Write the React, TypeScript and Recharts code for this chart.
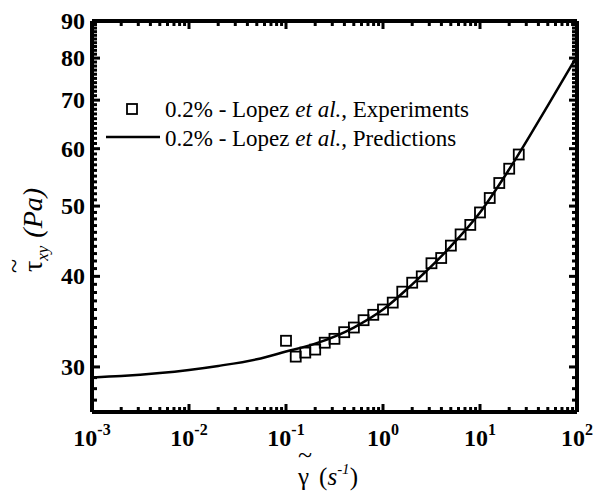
import React from "react";
import { ComposedChart, Line, Scatter, XAxis, YAxis, Legend } from "recharts";

const FONT = "'Liberation Serif', 'Times New Roman', Times, serif";

// measured shear stress vs shear rate, 0.2% solution
const shearRate = [
  0.1, 0.126, 0.158, 0.2, 0.251, 0.316, 0.398, 0.501, 0.631, 0.794, 1.0, 1.26,
  1.58, 2.0, 2.51, 3.16, 3.98, 5.01, 6.31, 7.94, 10.0, 12.6, 15.8, 20.0, 25.1,
];
const stressExp = [
  32.6, 31.0, 31.4, 31.7, 32.4, 32.8, 33.5, 34.0, 34.8, 35.4, 36.0, 36.8, 38.1,
  39.2, 40.0, 41.7, 42.4, 44.1, 45.7, 47.1, 49.0, 51.3, 53.8, 56.3, 58.9,
];

// model curve
const predRate = [0.001, 0.002, 0.005, 0.01, 0.02, 0.05, 0.1, 0.2, 0.5, 1, 2, 5, 10, 20, 50, 100];
const stressPred = [29.02, 29.14, 29.42, 29.72, 30.1, 30.74, 31.5, 32.3, 34.0, 36.0, 39.0, 44.0, 49.0, 56.2, 68.8, 80.5];

const xMajor = [0.001, 0.01, 0.1, 1, 10, 100];
const xExponents = ["-3", "-2", "-1", "0", "1", "2"];
const yMajor = [30, 40, 50, 60, 70, 80, 90];

const experiments = shearRate.map((x, i) => ({ x, y: stressExp[i] }));
const predictions = predRate.map((x, i) => ({ x, y: stressPred[i] }));

// minor ticks: 2..9 in every decade, every unit of stress
const xTicks: number[] = [];
xMajor.forEach((m, i) => {
  xTicks.push(m);
  if (i < xMajor.length - 1) for (let k = 2; k <= 9; k++) xTicks.push(+(m * k).toPrecision(3));
});
const yTicks: number[] = [];
for (let v = 26; v <= 90; v++) yTicks.push(v);

const majorX = (v: number) => xMajor.findIndex((m) => Math.abs(m - v) / m < 1e-6);
const majorY = (v: number) => yMajor.includes(v);

const TICK = { stroke: "#000", strokeWidth: 3 };
const FRAME = { stroke: "#000", strokeWidth: 4 };
const serif = { fontFamily: FONT };

const BottomTick = ({ x, y, payload }: any) => {
  const idx = majorX(payload.value);
  const len = idx >= 0 ? 8 : 5;
  return (
    <g>
      <line x1={x} y1={y} x2={x} y2={y - len} {...TICK} />
      {idx >= 0 && (
        <text x={x} y={y + 34} textAnchor="middle" style={serif} fontSize={24} fontWeight="bold" fill="#000">
          10
          <tspan fontSize={16} dy={-11}>{xExponents[idx]}</tspan>
        </text>
      )}
    </g>
  );
};

const TopTick = ({ x, y, payload }: any) => {
  const len = majorX(payload.value) >= 0 ? 8 : 5;
  return <line x1={x} y1={y} x2={x} y2={y + len} {...TICK} />;
};

const LeftTick = ({ x, y, payload }: any) => {
  const major = majorY(payload.value);
  return (
    <g>
      <line x1={x} y1={y} x2={x + (major ? 8 : 5)} y2={y} {...TICK} />
      {major && (
        <text x={x - 7} y={y + 8} textAnchor="end" style={serif} fontSize={24} fontWeight="bold" fill="#000">
          {payload.value}
        </text>
      )}
    </g>
  );
};

const RightTick = ({ x, y, payload }: any) => {
  const len = majorY(payload.value) ? 8 : 5;
  return <line x1={x} y1={y} x2={x - len} y2={y} {...TICK} />;
};

const Square = ({ cx, cy }: any) => (
  <rect x={cx - 5} y={cy - 5} width={10} height={10} fill="none" stroke="#000" strokeWidth={1.8} />
);

const LegendBox = () => (
  <svg width={420} height={60} style={{ display: "block" }}>
    <rect x={27} y={9} width={10} height={10} fill="none" stroke="#000" strokeWidth={1.8} />
    <text x={65} y={22} style={serif} fontSize={23} fill="#000">
      0.2% - Lopez <tspan fontStyle="italic">et al.</tspan>, Experiments
    </text>
    <line x1={6} y1={42} x2={60} y2={42} stroke="#000" strokeWidth={2.5} />
    <text x={65} y={51} style={serif} fontSize={23} fill="#000">
      0.2% - Lopez <tspan fontStyle="italic">et al.</tspan>, Predictions
    </text>
  </svg>
);

const AxisTitles = () => (
  <svg width={595} height={498} style={{ position: "absolute", left: 0, top: 0, pointerEvents: "none" }}>
    {/* y title, rotated */}
    <g transform="translate(42, 272) rotate(-90)">
      <text x={0} y={0} style={serif} fontSize={28} fill="#000">
        τ
        <tspan fontSize={17} dy={6} fontStyle="italic">xy</tspan>
        <tspan dy={-6} dx={8} fontStyle="italic">(Pa)</tspan>
      </text>
      <text x={6} y={-20} textAnchor="middle" style={serif} fontSize={26} fill="#000">~</text>
    </g>
    {/* x title */}
    <text x={298} y={485} style={serif} fontSize={25} fill="#000">
      γ
      <tspan dx={10}>(</tspan>
      <tspan fontStyle="italic">s</tspan>
      <tspan fontSize={15} dy={-11} fontStyle="italic">-1</tspan>
      <tspan dy={11}>)</tspan>
    </text>
    <text x={305} y={463} textAnchor="middle" style={serif} fontSize={26} fill="#000">~</text>
  </svg>
);

export default function App() {
  return (
    <div style={{ position: "absolute", left: 0, top: 0, width: 595, height: 498, background: "#fff", fontFamily: FONT }}>
      <ComposedChart width={595} height={498} margin={{ top: 20, right: 17, bottom: 0, left: 0 }}>
        <XAxis
          xAxisId="b"
          dataKey="x"
          type="number"
          scale="log"
          domain={[0.001, 100]}
          allowDataOverflow
          ticks={xTicks}
          interval={0}
          height={86}
          tickSize={0}
          tickMargin={0}
          tickLine={false}
          axisLine={FRAME}
          tick={(p: any) => <BottomTick {...p} />}
        />
        <XAxis
          xAxisId="t"
          dataKey="x"
          orientation="top"
          type="number"
          scale="log"
          domain={[0.001, 100]}
          allowDataOverflow
          ticks={xTicks}
          interval={0}
          height={1}
          tickSize={0}
          tickMargin={0}
          tickLine={false}
          axisLine={FRAME}
          tick={(p: any) => <TopTick {...p} />}
        />
        <YAxis
          yAxisId="l"
          dataKey="y"
          type="number"
          scale="log"
          domain={[26, 90]}
          allowDataOverflow
          ticks={yTicks}
          interval={0}
          width={92}
          tickSize={0}
          tickMargin={0}
          tickLine={false}
          axisLine={FRAME}
          tick={(p: any) => <LeftTick {...p} />}
        />
        <YAxis
          yAxisId="r"
          dataKey="y"
          orientation="right"
          type="number"
          scale="log"
          domain={[26, 90]}
          allowDataOverflow
          ticks={yTicks}
          interval={0}
          width={1}
          tickSize={0}
          tickMargin={0}
          tickLine={false}
          axisLine={FRAME}
          tick={(p: any) => <RightTick {...p} />}
        />
        {/* invisible copy of the model curve so the top/right frame axes get drawn */}
        <Line
          xAxisId="t"
          yAxisId="r"
          data={predictions}
          dataKey="y"
          stroke="none"
          dot={false}
          activeDot={false}
          legendType="none"
          isAnimationActive={false}
        />
        <Line
          xAxisId="b"
          yAxisId="l"
          data={predictions}
          dataKey="y"
          type="monotone"
          stroke="#000"
          strokeWidth={2.5}
          dot={false}
          isAnimationActive={false}
        />
        <Scatter
          xAxisId="b"
          yAxisId="l"
          data={experiments}
          dataKey="y"
          shape={(p: any) => <Square {...p} />}
          isAnimationActive={false}
        />
        <Legend
          layout="horizontal"
          verticalAlign="middle"
          align="center"
          content={() => <LegendBox />}
          wrapperStyle={{ position: "absolute", left: 100, top: 95, width: 420 }}
        />
      </ComposedChart>
      <AxisTitles />
    </div>
  );
}
